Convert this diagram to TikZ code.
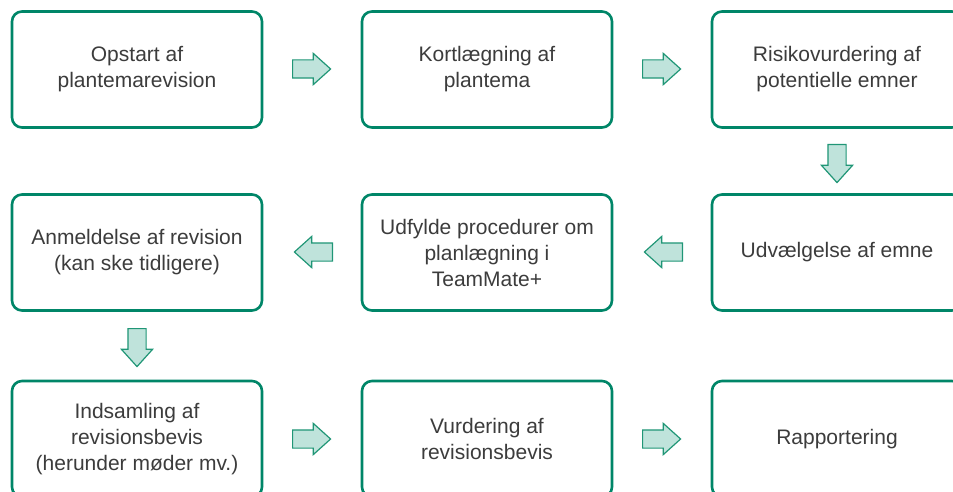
\documentclass[tikz,border=0pt]{standalone}
\usepackage{fontspec}
\setmainfont{Liberation Sans}
\usetikzlibrary{shapes.arrows}
\definecolor{boxgreen}{RGB}{0,134,104}
\definecolor{arrfill}{RGB}{191,227,219}
\definecolor{arrline}{RGB}{32,150,118}
\definecolor{txt}{RGB}{60,60,60}
\tikzset{
  stepbox/.style={draw=boxgreen, line width=2.6pt, rounded corners=10pt, fill=white,
    minimum width=250pt, minimum height=116pt, inner sep=0pt, align=center,
    text=txt, font=\fontsize{21}{26}\selectfont},
  blockarrow/.style={single arrow, draw=arrline, fill=arrfill, line width=1.2pt,
    minimum height=38pt, inner xsep=0pt, inner ysep=8.5pt,
    single arrow head extend=6.5pt, single arrow tip angle=84, anchor=tail},
}
\begin{document}
\begin{tikzpicture}[x=1pt,y=-1pt]
\useasboundingbox (0,0) rectangle (953,492);
\clip (0,0) rectangle (953,492);
\node[stepbox] (b1) at (137,69.5) {Opstart af\\plantemarevision};
\node[stepbox] (b2) at (487,69.5) {Kortlægning af\\plantema};
\node[stepbox] (b3) at (837,69.5) {Risikovurdering af\\potentielle emner};
\node[stepbox] (b4) at (137,252.5) {Anmeldelse af revision\\(kan ske tidligere)};
\node[stepbox] (b5) at (487,252.5) {Udfylde procedurer om\\planlægning i\\TeamMate+};
\node[stepbox] (b6) at (837,252.5) {Udvælgelse af emne};
\node[stepbox] (b7) at (137,439) {Indsamling af\\revisionsbevis\\(herunder møder mv.)};
\node[stepbox] (b8) at (487,439) {Vurdering af\\revisionsbevis};
\node[stepbox] (b9) at (837,439) {Rapportering};
\node[blockarrow] (a12) at (292,69) {};
\node[blockarrow] (a23) at (642,69) {};
\node[blockarrow, rotate=-90] (a36) at (837,144) {};
\node[blockarrow, rotate=180] (a65) at (683,252) {};
\node[blockarrow, rotate=180] (a54) at (333,252) {};
\node[blockarrow, rotate=-90] (a47) at (137,328) {};
\node[blockarrow] (a78) at (292,439) {};
\node[blockarrow] (a89) at (642,439) {};
\end{tikzpicture}
\end{document}
